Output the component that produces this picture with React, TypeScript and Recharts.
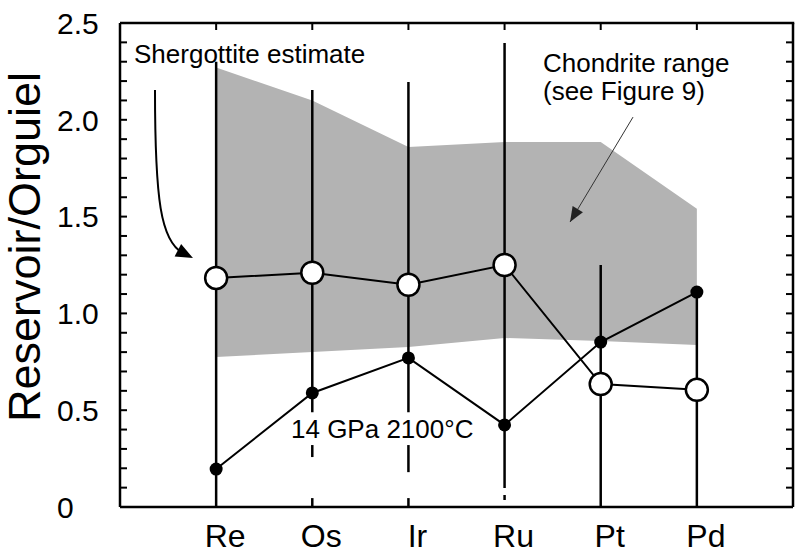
import {
  Area,
  ComposedChart,
  Customized,
  Line,
  ReferenceLine,
  XAxis,
  YAxis,
} from "recharts";

// Elements along the x axis (placed at 1..6 on a 0..7 scale)
const elements = ["Re", "Os", "Ir", "Ru", "Pt", "Pd"];
const elementPos = [1, 2, 3, 4, 5, 6];

// Chondrite range band
const chondriteLow = [0.775, 0.8, 0.826, 0.873, 0.857, 0.837];
const chondriteHigh = [2.27, 2.1, 1.86, 1.885, 1.885, 1.54];

// Shergottite estimate (open circles)
const shergottite = [1.183, 1.21, 1.148, 1.25, 0.635, 0.605];

// 14 GPa 2100°C model (filled circles)
const run14GPa = [0.196, 0.589, 0.77, 0.424, 0.852, 1.11];

// Vertical range bars, solid part
const rangeHigh = [2.3, 2.154, 2.195, 2.397, 1.25, 1.11];
const rangeLow = [0, 0.49, 0.49, 0.098, 0, 0];

// Dashed continuation below the solid bars (one entry per dash)
const dashElement = ["Os", "Ir", "Ru"];
const dashTop = [0.32, 0.32, 0.062];
const dashBottom = [0.258, 0.18, 0.036];
// last dash of Os / Ir sitting on the x axis (height in data units)
const footDashElement = ["Os", "Ir"];
const footDashHeight = [0.046, 0.046];

const yTicks = [
  0, 0.1, 0.2, 0.3, 0.4, 0.5, 0.6, 0.7, 0.8, 0.9, 1, 1.1, 1.2, 1.3, 1.4, 1.5,
  1.6, 1.7, 1.8, 1.9, 2, 2.1, 2.2, 2.3, 2.4, 2.5,
];

const FONT = "'Liberation Sans', Arial, Helvetica, sans-serif";

// layout
const W = 800;
const H = 553;
const MARGIN = { top: 23, right: 7, left: 0, bottom: 0 };
const Y_AXIS_W = 120;
const X_AXIS_H = 46;
const PLOT_L = MARGIN.left + Y_AXIS_W;
const PLOT_T = MARGIN.top;
const PLOT_W = W - MARGIN.left - MARGIN.right - Y_AXIS_W;
const PLOT_H = H - MARGIN.top - MARGIN.bottom - X_AXIS_H;
const X_MAX = 7;
const Y_MAX = 2.5;

const data = elements.map((name, i) => ({
  x: elementPos[i],
  name,
  range: [chondriteLow[i], chondriteHigh[i]],
  sherg: shergottite[i],
  run: run14GPa[i],
}));

function LeftTick({ x, y, payload }: any) {
  const v = payload.value;
  const major = Math.abs(v * 2 - Math.round(v * 2)) < 1e-6;
  return (
    <g>
      <line x1={x} x2={x + 7} y1={y} y2={y} stroke="#000" strokeWidth={2} />
      {major && (
        <text
          x={x - 63}
          y={y}
          dy="0.36em"
          textAnchor="start"
          fontSize={30}
          fontFamily={FONT}
          fill="#000"
        >
          {v === 0 ? "0" : v.toFixed(1)}
        </text>
      )}
    </g>
  );
}

function BottomTick({ x, y, payload }: any) {
  return (
    <text
      x={x + 9}
      y={y + 40}
      textAnchor="middle"
      fontSize={32}
      fontFamily={FONT}
      fill="#000"
    >
      {elements[elementPos.indexOf(payload.value)]}
    </text>
  );
}

// Frame edges (top, right), their inward ticks and the foot dashes,
// laid over the chart on the same plot box.
function FrameOverlay() {
  const px = (v: number) => PLOT_L + (v / X_MAX) * PLOT_W;
  const py = (v: number) => PLOT_T + PLOT_H - (v / Y_MAX) * PLOT_H;
  const right = PLOT_L + PLOT_W;
  const bottom = PLOT_T + PLOT_H;
  return (
    <svg
      width={W}
      height={H}
      style={{ position: "absolute", left: 0, top: 0, pointerEvents: "none" }}
    >
      <line x1={PLOT_L} x2={right + 1.25} y1={PLOT_T} y2={PLOT_T} stroke="#000" strokeWidth={2.5} />
      <line x1={right} x2={right} y1={PLOT_T} y2={bottom} stroke="#000" strokeWidth={2.5} />
      {yTicks.map((v) => (
        <line key={`r-${v}`} x1={right} x2={right - 7} y1={py(v)} y2={py(v)} stroke="#000" strokeWidth={2} />
      ))}
      {elementPos.map((p) => (
        <line key={`t-${p}`} x1={px(p)} x2={px(p)} y1={PLOT_T} y2={PLOT_T + 7} stroke="#000" strokeWidth={2} />
      ))}
      {footDashElement.map((name, k) => {
        const xp = px(elementPos[elements.indexOf(name)]);
        return (
          <line
            key={`f-${name}`}
            x1={xp}
            x2={xp}
            y1={bottom}
            y2={py(footDashHeight[k])}
            stroke="#000"
            strokeWidth={2.5}
          />
        );
      })}
    </svg>
  );
}

function arrowHead(tx: number, ty: number, fx: number, fy: number, len: number, half: number) {
  const dx = tx - fx;
  const dy = ty - fy;
  const d = Math.hypot(dx, dy) || 1;
  const ux = dx / d;
  const uy = dy / d;
  const bx = tx - ux * len;
  const by = ty - uy * len;
  return `${tx},${ty} ${bx - uy * half},${by + ux * half} ${bx + uy * half},${by - ux * half}`;
}

function CurvedArrow(props: any) {
  const { x1, y1, x2, y2 } = props;
  const c1x = x1;
  const c1y = y1 + 0.65 * (y2 - y1);
  const c2x = x1 + 0.15 * (x2 - x1);
  const c2y = y2 - 0.1 * (y2 - y1);
  return (
    <g>
      <path
        d={`M${x1},${y1} C${c1x},${c1y} ${c2x},${c2y} ${x2 - 10},${y2 - 5}`}
        fill="none"
        stroke="#000"
        strokeWidth={2}
      />
      <polygon points={arrowHead(x2, y2, c2x, c2y, 17, 7)} fill="#000" />
    </g>
  );
}

function StraightArrow(props: any) {
  const { x1, y1, x2, y2 } = props;
  return (
    <g>
      <line x1={x1} y1={y1} x2={x2} y2={y2} stroke="#333" strokeWidth={1} />
      <polygon points={arrowHead(x2, y2, x1, y1, 15, 6)} fill="#222" />
    </g>
  );
}

function Annotations() {
  const t = { fontFamily: FONT, fontSize: 26, fill: "#000" };
  return (
    <g>
      <text x={134} y={63} {...t}>Shergottite estimate</text>
      <text x={543} y={72} {...t}>Chondrite range</text>
      <text x={543} y={100} {...t}>(see Figure 9)</text>
      <text x={291} y={438} {...t}>14 GPa 2100°C</text>
      <text
        x={40}
        y={247}
        transform="rotate(-90 40 247)"
        textAnchor="middle"
        fontFamily={FONT}
        fontSize={45}
        fill="#000"
      >
        Reservoir/Orguiel
      </text>
    </g>
  );
}

export default function App() {
  return (
    <div
      style={{
        position: "absolute",
        left: 0,
        top: 0,
        width: W,
        height: H,
        background: "#fff",
      }}
    >
      <ComposedChart width={W} height={H} data={data} margin={MARGIN}>
        <XAxis
          dataKey="x"
          type="number"
          domain={[0, X_MAX]}
          ticks={elementPos}
          allowDataOverflow
          height={X_AXIS_H}
          tickSize={0}
          tickMargin={0}
          tickLine={false}
          axisLine={{ stroke: "#000", strokeWidth: 2.5 }}
          tick={<BottomTick />}
        />
        <YAxis
          type="number"
          domain={[0, Y_MAX]}
          ticks={yTicks}
          interval={0}
          allowDataOverflow
          width={Y_AXIS_W}
          tickSize={0}
          tickMargin={0}
          tickLine={false}
          axisLine={{ stroke: "#000", strokeWidth: 2.5 }}
          tick={<LeftTick />}
        />

        <Area
          dataKey="range"
          type="linear"
          fill="#b3b3b3"
          fillOpacity={1}
          stroke="none"
          isAnimationActive={false}
        />

        {/* vertical range bars */}
        {elements.map((name, i) => (
          <ReferenceLine
            key={`bar-${name}`}
            segment={[
              { x: elementPos[i], y: rangeHigh[i] },
              { x: elementPos[i], y: rangeLow[i] },
            ]}
            stroke="#000"
            strokeWidth={2.5}
            zIndex={350}
          />
        ))}
        {dashElement.map((name, k) => (
          <ReferenceLine
            key={`dash-${k}`}
            segment={[
              { x: elementPos[elements.indexOf(name)], y: dashTop[k] },
              { x: elementPos[elements.indexOf(name)], y: dashBottom[k] },
            ]}
            stroke="#000"
            strokeWidth={2.5}
            zIndex={350}
          />
        ))}

        <Line
          dataKey="run"
          type="linear"
          stroke="#000"
          strokeWidth={2}
          dot={{ r: 6.5, fill: "#000", stroke: "none" }}
          activeDot={false}
          isAnimationActive={false}
        />
        <Line
          dataKey="sherg"
          type="linear"
          stroke="#000"
          strokeWidth={2}
          dot={{ r: 11, fill: "#fff", stroke: "#000", strokeWidth: 2.5 }}
          activeDot={false}
          isAnimationActive={false}
        />

        <ReferenceLine
          segment={[
            { x: 0.364, y: 2.154 },
            { x: 0.759, y: 1.286 },
          ]}
          shape={<CurvedArrow />}
        />
        <ReferenceLine
          segment={[
            { x: 5.336, y: 2.014 },
            { x: 4.681, y: 1.472 },
          ]}
          shape={<StraightArrow />}
        />

        <Customized component={<Annotations />} />
      </ComposedChart>
      <FrameOverlay />
    </div>
  );
}
